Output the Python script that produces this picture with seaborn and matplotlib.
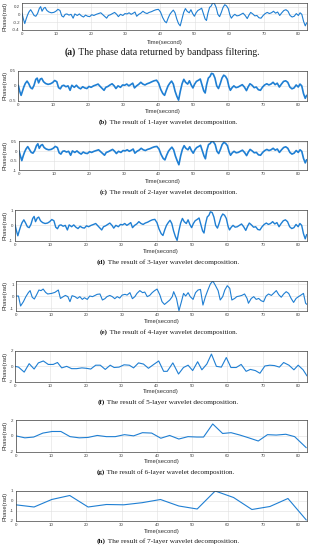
import numpy as np
import pandas as pd
import matplotlib
matplotlib.use("Agg")
import matplotlib.pyplot as plt
import seaborn as sns
from matplotlib.ticker import FuncFormatter

# ---------------- data ----------------
T_FINE = [0.0,0.4,0.8,1.2,1.6,2.0,2.5,3.0,3.5,4.0,
          4.5,5.0,5.4,5.8,6.3,6.7,7.2,7.8,8.5,9.2,
          9.8,10.4,11.0,11.5,12.0,12.5,13.0,13.6,14.2,14.8,
          15.3,16.0,16.6,17.2,17.8,18.4,19.0,19.6,20.2,20.8,
          21.5,22.2,22.8,23.4,24.0,24.5,25.0,25.6,26.2,26.8,
          27.4,27.9,28.5,29.2,29.8,30.4,31.0,31.6,32.2,32.7,
          33.2,33.8,34.4,35.0,35.6,36.2,36.8,37.5,38.2,38.8,
          39.5,40.1,40.7,41.3,41.8,42.3,42.8,43.3,43.8,44.3,
          44.8,45.3,45.8,46.3,46.8,47.3,47.8,48.4,48.9,49.4,
          49.9,50.4,50.9,51.5,52.0,52.5,53.0,53.4,53.8,54.3,
          54.8,55.2,55.7,56.2,56.7,57.2,57.7,58.2,58.7,59.2,
          59.7,60.2,60.6,61.1,61.6,62.2,62.8,63.4,64.0,64.6,
          65.2,65.7,66.2,66.8,67.4,68.0,68.6,69.2,69.8,70.4,
          71.0,71.6,72.2,72.8,73.4,74.0,74.6,75.2,75.8,76.4,
          77.0,77.6,78.2,78.8,79.4,80.0,80.5,81.0,81.5,82.0,
          82.4]

A_VAL = [0.03,-0.12,-0.24,-0.12,-0.02,0.06,0.12,0.05,-0.03,-0.05,
         0.02,0.15,0.20,0.08,0.16,0.18,0.10,0.06,0.04,0.05,
         0.08,0.13,0.10,-0.04,-0.07,0.00,0.01,-0.02,0.00,-0.10,
         0.01,-0.03,0.01,-0.04,-0.07,-0.02,-0.05,-0.06,-0.01,-0.03,
         0.00,0.02,0.04,-0.01,-0.06,-0.10,-0.03,-0.01,0.02,0.05,
         0.00,-0.06,0.00,-0.03,0.02,0.01,0.04,0.00,0.03,0.06,
         -0.05,0.00,0.03,0.08,0.04,0.02,0.05,0.07,0.10,0.12,
         0.13,0.06,-0.08,-0.18,-0.22,-0.10,0.00,0.06,0.11,0.04,
         -0.12,-0.24,-0.30,-0.12,0.05,0.15,0.08,0.04,0.12,0.02,
         -0.05,0.04,0.10,0.13,0.16,0.02,-0.12,-0.16,0.02,0.18,
         0.22,0.30,0.28,0.18,0.00,-0.06,0.05,0.18,0.25,0.22,
         0.15,-0.02,-0.10,-0.04,0.00,-0.04,-0.03,0.00,0.03,-0.03,
         -0.11,-0.02,0.05,0.01,-0.04,-0.03,-0.09,-0.10,-0.03,0.02,
         0.05,0.02,0.04,0.08,0.03,0.06,-0.03,0.04,0.10,0.12,
         0.08,-0.03,-0.07,-0.05,0.02,-0.03,0.04,0.00,-0.18,-0.30,
         -0.22]

B_VAL = [0.02,-0.18,-0.32,-0.17,-0.03,0.08,0.16,0.07,-0.06,-0.10,
         0.02,0.22,0.26,0.10,0.23,0.25,0.14,0.08,0.05,0.07,
         0.11,0.18,0.14,-0.06,-0.10,0.00,0.02,-0.03,0.00,-0.15,
         0.02,-0.05,0.02,-0.06,-0.10,-0.03,-0.07,-0.09,-0.02,-0.05,
         0.00,0.03,0.06,-0.02,-0.09,-0.15,-0.05,-0.02,0.03,0.07,
         0.00,-0.09,0.00,-0.05,0.03,0.02,0.06,0.00,0.05,0.09,
         -0.07,0.00,0.05,0.12,0.06,0.03,0.07,0.10,0.14,0.17,
         0.19,0.09,-0.12,-0.26,-0.32,-0.15,0.00,0.09,0.16,0.06,
         -0.18,-0.35,-0.48,-0.18,0.07,0.22,0.12,0.06,0.17,0.03,
         -0.07,0.06,0.15,0.19,0.23,0.03,-0.17,-0.24,0.03,0.26,
         0.32,0.42,0.40,0.26,0.00,-0.09,0.07,0.26,0.36,0.32,
         0.22,-0.03,-0.15,-0.06,0.00,-0.06,-0.04,0.00,0.04,-0.04,
         -0.16,-0.03,0.07,0.02,-0.06,-0.04,-0.13,-0.15,-0.04,0.03,
         0.07,0.03,0.06,0.12,0.04,0.09,-0.04,0.06,0.15,0.17,
         0.12,-0.04,-0.10,-0.07,0.03,-0.04,0.06,0.00,-0.26,-0.42,
         -0.32]

C_VAL = [0.03,-0.25,-0.50,-0.25,-0.04,0.12,0.25,0.10,-0.06,-0.10,
         0.04,0.30,0.40,0.16,0.32,0.36,0.20,0.12,0.08,0.10,
         0.16,0.26,0.20,-0.08,-0.15,0.00,0.02,-0.04,0.00,-0.21,
         0.02,-0.06,0.02,-0.08,-0.15,-0.04,-0.10,-0.12,-0.02,-0.06,
         0.00,0.04,0.08,-0.02,-0.12,-0.21,-0.06,-0.02,0.04,0.10,
         0.00,-0.12,0.00,-0.06,0.04,0.02,0.08,0.00,0.06,0.12,
         -0.10,0.00,0.06,0.16,0.08,0.04,0.10,0.14,0.20,0.24,
         0.26,0.12,-0.17,-0.38,-0.46,-0.21,0.00,0.12,0.22,0.08,
         -0.25,-0.50,-0.72,-0.25,0.10,0.30,0.16,0.08,0.24,0.04,
         -0.10,0.08,0.20,0.26,0.32,0.04,-0.25,-0.40,0.04,0.36,
         0.42,0.54,0.50,0.36,0.00,-0.12,0.10,0.36,0.48,0.42,
         0.30,-0.04,-0.21,-0.08,0.00,-0.08,-0.06,0.00,0.06,-0.06,
         -0.23,-0.04,0.10,0.02,-0.08,-0.06,-0.19,-0.21,-0.06,0.04,
         0.10,0.04,0.08,0.16,0.06,0.12,-0.06,0.08,0.20,0.24,
         0.16,-0.06,-0.15,-0.10,0.04,-0.06,0.08,0.00,-0.38,-0.62,
         -0.45]

D_VAL = [0.05,-0.35,-0.68,-0.35,-0.06,0.18,0.36,0.15,-0.09,-0.15,
         0.06,0.45,0.58,0.24,0.48,0.54,0.30,0.18,0.12,0.15,
         0.24,0.38,0.30,-0.12,-0.22,0.00,0.03,-0.06,0.00,-0.30,
         0.03,-0.09,0.03,-0.12,-0.21,-0.06,-0.15,-0.18,-0.03,-0.09,
         0.00,0.06,0.12,-0.03,-0.18,-0.30,-0.09,-0.03,0.06,0.15,
         0.00,-0.18,0.00,-0.09,0.06,0.03,0.12,0.00,0.09,0.18,
         -0.15,0.00,0.09,0.24,0.12,0.06,0.15,0.21,0.30,0.36,
         0.39,0.18,-0.24,-0.54,-0.66,-0.30,0.00,0.18,0.33,0.12,
         -0.36,-0.72,-0.98,-0.36,0.15,0.45,0.24,0.12,0.36,0.06,
         -0.15,0.12,0.30,0.39,0.48,0.06,-0.36,-0.50,0.06,0.54,
         0.66,0.88,0.84,0.54,0.00,-0.18,0.15,0.54,0.74,0.66,
         0.45,-0.06,-0.30,-0.12,0.00,-0.12,-0.09,0.00,0.09,-0.09,
         -0.33,-0.06,0.15,0.03,-0.12,-0.09,-0.27,-0.30,-0.09,0.06,
         0.15,0.06,0.12,0.24,0.09,0.18,-0.09,0.12,0.30,0.36,
         0.24,-0.09,-0.21,-0.15,0.06,-0.09,0.12,0.00,-0.54,-0.88,
         -0.60]

E_T = [0,0.7,1.3,2.1,2.8,3.5,4.0,4.6,5.2,5.8,
       6.5,7.1,7.7,8.4,9.0,10.1,11.0,12.0,12.6,13.4,
       14.0,14.7,15.3,15.9,16.7,17.4,18.1,18.8,19.4,20.2,
       20.9,21.7,22.4,23.0,23.8,24.5,25.2,25.8,26.6,27.3,
       28.0,28.7,29.4,30.1,30.9,31.5,32.3,33.0,33.7,34.3,
       35.1,35.9,36.5,37.2,37.9,38.6,39.3,40.0,40.8,41.4,
       42.1,42.8,43.6,44.3,44.7,45.5,46.2,46.9,47.5,48.1,
       48.8,49.4,50.2,50.9,51.6,52.3,53.0,53.7,54.4,55.1,
       55.8,56.5,57.3,57.9,58.6,59.2,59.9,60.6,61.2,62.0,
       62.6,63.4,64.0,64.8,65.5,65.9,66.7,67.4,68.1,68.8,
       69.5,70.2,70.9,71.6,72.4,73.0,73.8,74.5,75.2,75.9,
       76.6,77.3,78.0,78.7,79.4,80.1,80.8,81.5,82.1,82.5]
E_VAL = [0,0,-0.83,-0.47,-0.05,0.28,0.45,-0.1,-0.25,0.08,
         0.5,0.45,0.58,0.3,0.17,0.22,0.3,0.5,-0.2,-0.05,
         0.05,-0.05,-0.47,0.03,-0.05,-0.2,-0.05,-0.28,-0.14,-0.28,
         0,-0.05,0.05,0.14,0.17,-0.33,-0.22,-0.05,0.05,-0.05,
         -0.22,-0.05,-0.17,0.08,0.14,0.08,0.28,-0.22,-0.05,0.22,
         0.45,0.28,0.33,-0.05,0.05,0.28,0.45,0.58,0.08,-0.47,
         -0.7,-0.53,-0.33,-0.05,0.36,-0.2,-1.22,-0.47,0.22,0,
         0.28,-0.05,-0.28,0.28,0.5,0.55,-0.75,-0.05,0.5,1.0,
         1.25,0.9,0.45,-0.33,-0.05,0.5,0.86,0.64,-0.33,-0.2,
         -0.05,0,0.05,0.17,-0.2,-0.6,-0.2,-0.05,-0.28,-0.2,
         -0.39,-0.47,0,0.17,0.05,0.22,0.45,0.11,-0.1,0.17,
         0.36,0.22,-0.2,-0.53,-0.2,-0.05,0.08,0.22,-0.6,-0.7]

F_T = [0,1.0,2.6,4.0,5.4,6.6,8.0,9.4,10.8,12.0,
       13.2,14.6,16.0,17.4,18.9,20.1,21.4,22.8,24.1,25.5,
       26.9,28.0,29.4,30.8,32.3,33.5,34.9,36.3,37.7,39.2,
       40.6,42.0,43.0,44.6,46.2,47.6,48.9,50.2,51.6,52.8,
       54.2,55.5,56.9,58.3,59.7,61.0,62.5,63.9,65.3,66.5,
       67.9,69.2,70.6,72.0,73.3,74.7,75.9,77.4,78.8,80.0,
       81.4,82.5]
F_VAL = [0,-0.1,-0.75,0.35,-0.35,0.45,0.7,0.25,0.25,0.5,
         -0.2,0,-0.3,-0.3,-0.2,-0.25,-0.35,0.15,0.15,-0.4,
         0.15,-0.15,-0.1,0.2,0.15,-0.2,0.45,0.3,-0.25,0.25,
         0.7,-0.65,-0.65,0.45,-1.0,-0.15,0.15,-0.55,0.6,-0.45,
         0.3,1.6,0,-0.1,1.15,-0.15,-0.15,0.25,-0.65,-0.4,
         -0.55,-0.9,0.05,0.15,0.1,-0.1,0.5,0.15,-0.45,0.15,
         -0.45,-1.25]

G_T = [0,2.6,5.1,7.7,10.3,12.8,15.4,18.0,20.5,23.1,
       25.7,28.2,30.8,33.4,35.9,38.5,41.1,43.6,46.2,48.8,
       51.3,53.2,55.8,58.6,61.0,63.5,66.0,68.7,71.3,73.8,
       76.5,79.0,82.3]
G_VAL = [0,-0.25,-0.15,0.35,0.55,0.55,-0.1,-0.25,-0.2,0.05,
         -0.1,-0.1,0.15,0,0.4,0.35,-0.3,0.05,-0.4,-0.1,
         -0.15,-0.15,1.5,0.3,0.4,0.1,-0.25,-0.65,0.15,0.1,
         0.2,-0.1,-1.5]

H_T = [0,5.2,10.2,15.3,20.5,25.7,30.6,35.8,41.0,46.2,51.4,56.5,61.7,66.9,72.0,77.1,82.3]
H_VAL = [-0.38,-0.6,0.15,0.55,-0.6,-0.35,-0.38,-0.17,0.15,-0.5,-0.8,1.0,0.35,-0.85,-0.55,0.25,-1.9]

X_TICKS = [0, 10, 20, 30, 40, 50, 60, 70, 80]
X_LABEL = "Time(second)"
Y_LABEL = "Phase(rad)"

CAPTIONS = [
    ("(a)", "The phase data returned by bandpass filtering."),
    ("(b)", "The result of 1-layer wavelet decomposition."),
    ("(c)", "The result of 2-layer wavelet decomposition."),
    ("(d)", "The result of 3-layer wavelet decomposition."),
    ("(e)", "The result of 4-layer wavelet decomposition."),
    ("(f)", "The result of 5-layer wavelet decomposition."),
    ("(g)", "The result of 6-layer wavelet decomposition."),
    ("(h)", "The result of 7-layer wavelet decomposition."),
]
SERIES = [(T_FINE, A_VAL), (T_FINE, B_VAL), (T_FINE, C_VAL), (T_FINE, D_VAL),
          (E_T, E_VAL), (F_T, F_VAL), (G_T, G_VAL), (H_T, H_VAL)]
Y_TICKS = [[-0.4, -0.2, 0, 0.2], [-0.5, 0, 0.5], [-1, -0.5, 0, 0.5], [-1, 0, 1],
           [-1, 0, 1], [-2, 0, 2], [-2, 0, 2], [-2, -1, 0, 1]]

# ---------------- layout / style ----------------
W, H = 312, 550
YLIMS = [(-0.4, 0.3), (-0.5, 0.5), (-1, 0.55), (-1, 1),
         (-1.22, 1.25), (-2, 2), (-2, 2), (-2, 1)]
# (left, top, right, bottom) in pixels
BOXES = [(22, 2.8, 307, 29.7), (18.3, 71, 307, 100.7), (19, 141, 307, 170),
         (15, 210, 307, 240.7), (16, 281, 307, 310.7), (15, 351, 307, 381.7),
         (15.7, 420, 307, 451.7), (15.7, 491, 307, 521)]
XLAB_Y = [42.3, 111.7, 181, 251.7, 321.7, 391.7, 461.7, 531.7]
CAP_Y = [51.7, 121.7, 191.7, 261.7, 331.7, 401.7, 471.7, 540.7]
CAP_X = [(65, 258), (99, 238), (100, 238), (97, 237), (100, 237), (98, 236), (97, 235), (97, 237)]
LWS = [0.8, 1.2, 1.2, 1.0, 0.8, 0.8, 0.8, 0.8]
COLOR = "#1f7fd3"

sns.set_theme(style="white")
plt.rcParams["font.family"] = ["Liberation Sans", "DejaVu Sans"]

fig = plt.figure(figsize=(W / 100, H / 100), dpi=100)
fig.patch.set_facecolor("white")
renderer = fig.canvas.get_renderer()

fmt = FuncFormatter(lambda v, p: "%g" % v)

for i in range(8):
    l, t, r, b = BOXES[i]
    ax = fig.add_axes([l / W, 1 - b / H, (r - l) / W, (b - t) / H])
    tt, vv = SERIES[i]
    df = pd.DataFrame({"t": tt, "v": vv})
    sns.lineplot(data=df, x="t", y="v", ax=ax, color=COLOR, linewidth=LWS[i],
                 estimator=None, sort=False)
    ax.set_xlim(0, 82.5)
    ax.set_ylim(*YLIMS[i])
    ax.set_xticks(X_TICKS)
    ax.set_yticks(Y_TICKS[i])
    ax.yaxis.set_major_formatter(fmt)
    ax.grid(True, color="0.88", linewidth=0.4)
    ax.set_axisbelow(True)
    ax.tick_params(direction="in", length=1.5, width=0.4, labelsize=3.2,
                   pad=1.5, colors="0.25")
    for s in ax.spines.values():
        s.set_linewidth(0.5)
        s.set_color("0.25")
        s.set_visible(True)
    ax.set_xlabel(X_LABEL, fontsize=4.2, color="0.2", va="center")
    ax.xaxis.set_label_coords(0.5, -(XLAB_Y[i] - b) / (b - t))
    ax.set_ylabel(Y_LABEL, fontsize=4.2, color="0.2", va="center")
    ax.yaxis.set_label_coords(-(l - 5.5) / (r - l), 0.5)

    # caption
    lab, txt = CAPTIONS[i]
    x0, x1 = CAP_X[i]
    yc = 1 - CAP_Y[i] / H
    t1 = fig.text(x0 / W, yc, lab, fontsize=10, fontweight="bold",
                  family=["Liberation Serif"], va="center", ha="left", color="0.1")
    t2 = fig.text(0, yc, " " + txt, fontsize=10, family=["Liberation Serif"],
                  va="center", ha="left", color="0.1")
    wtot = t1.get_window_extent(renderer).width + t2.get_window_extent(renderer).width
    s = 10 * (x1 - x0) / wtot
    t1.set_fontsize(s)
    t2.set_fontsize(s)
    w1 = t1.get_window_extent(renderer).width
    t2.set_position(((x0 + w1) / W, yc))

fig.savefig("out.png", dpi=100, facecolor="white")
